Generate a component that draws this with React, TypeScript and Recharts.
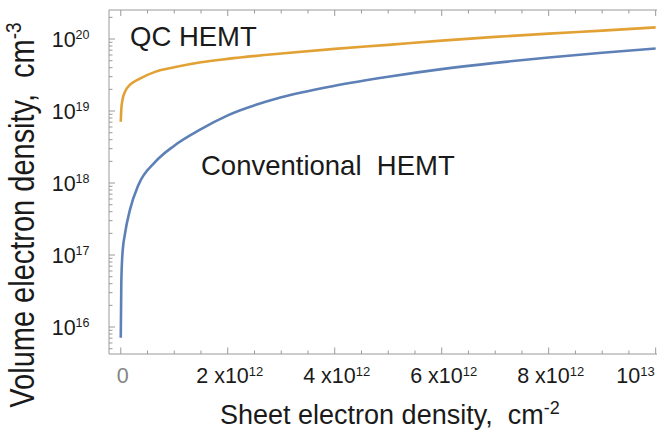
import React from 'react';
import { LineChart, Line, XAxis, YAxis } from 'recharts';

// Sheet electron density (units of 10^12 cm^-2)
const SHEET = [0, 0.01, 0.03, 0.08, 0.17, 0.33, 0.64, 1, 1.5, 2, 3, 4, 5, 6, 7, 8, 9, 10];
// Volume electron density (cm^-3) for the QC HEMT
const QC_HEMT = [7.1e18, 1.05e19, 1.4e19, 1.86e19, 2.3e19, 2.75e19, 3.5e19, 4.05e19, 4.75e19, 5.3e19, 6.3e19, 7.3e19, 8.3e19, 9.5e19, 1.07e20, 1.19e20, 1.31e20, 1.45e20];
// Volume electron density (cm^-3) for the conventional HEMT
const CONV_HEMT = [7.1e15, 4e16, 1.0e17, 2.0e17, 4.2e17, 9.4e17, 1.95e18, 3.3e18, 5.6e18, 8.7e18, 1.55e19, 2.25e19, 3.0e19, 3.82e19, 4.67e19, 5.55e19, 6.46e19, 7.4e19];

const X_MAJOR = [0, 2, 4, 6, 8, 10];
const X_MAIN_TEXT = ['0', '2 x10', '4 x10', '6 x10', '8 x10', '10'];
const X_SUP_TEXT = ['', '12', '12', '12', '12', '13'];
const X_TICKS = Array.from({ length: 21 }, (_, i) => i * 0.5);

const Y_DECADES = [1e16, 1e17, 1e18, 1e19, 1e20];
const Y_EXP_TEXT = ['16', '17', '18', '19', '20'];
const Y_TICKS: number[] = [];
for (let k = 15; k <= 20; k++) {
  for (let m = 1; m <= 9; m++) {
    const v = m * Math.pow(10, k);
    if (v >= 4.3e15 && v <= 2.5e20) Y_TICKS.push(v);
  }
}

const data = SHEET.map((x, i) => ({ x, qc: QC_HEMT[i], conv: CONV_HEMT[i] }));

const W = 660;
const H = 432;
const AX_L = 109;
const AX_T = 10;
const AX_B = 354;
const AX_R = 657;
const AXIS_C = '#9a9a9a';
const FONT = '"Liberation Sans", Arial, sans-serif';
const TXT = '#1a1a1a';
const XAX_H = 40;
const XTOP_H = 5;
const YAX_W = 60;

const XTickBottom = (props: any) => {
  const { x, payload } = props;
  const v = payload.value;
  const idx = X_MAJOR.indexOf(v);
  const major = idx >= 0;
  const last = idx === X_MAJOR.length - 1;
  return (
    <g>
      <line x1={x} x2={x} y1={AX_B} y2={AX_B - (major ? 6.5 : 3.5)} stroke={AXIS_C} strokeWidth={1} />
      {major && (
        <text
          x={last ? x - 1 : x + 2}
          y={AX_B + 29}
          textAnchor={last ? 'end' : 'middle'}
          fontSize={21.5}
          fontFamily={FONT}
          fill={idx === 0 ? '#858585' : TXT}
          style={{ whiteSpace: 'pre' }}
        >
          {X_MAIN_TEXT[idx]}
          {X_SUP_TEXT[idx] && (
            <tspan dy={-7} fontSize={13}>
              {X_SUP_TEXT[idx]}
            </tspan>
          )}
        </text>
      )}
    </g>
  );
};

const XTickTop = (props: any) => {
  const { x, payload } = props;
  const major = X_MAJOR.indexOf(payload.value) >= 0;
  return <line x1={x} x2={x} y1={AX_T} y2={AX_T + (major ? 6 : 3.5)} stroke={AXIS_C} strokeWidth={1} />;
};

const YTick = (props: any) => {
  const { y, payload } = props;
  const v = payload.value;
  const idx = Y_DECADES.findIndex((d) => Math.abs(d - v) / d < 1e-9);
  const major = idx >= 0;
  return (
    <g>
      <line x1={AX_L} x2={AX_L + (major ? 6 : 3.5)} y1={y} y2={y} stroke={AXIS_C} strokeWidth={1} />
      {major && (
        <text x={89.5} y={y + 7.5} textAnchor="end" fontSize={21.5} fontFamily={FONT} fill={TXT}>
          10
          <tspan dy={-7.5} fontSize={12.5}>
            {Y_EXP_TEXT[idx]}
          </tspan>
        </text>
      )}
    </g>
  );
};

export default function App() {
  return (
    <div style={{ position: 'absolute', left: 0, top: 0, width: W, height: H, background: '#fff' }}>
      <LineChart
        width={W}
        height={H}
        data={data}
        margin={{ top: AX_T - XTOP_H, right: W - AX_R, bottom: H - AX_B - XAX_H, left: AX_L - YAX_W }}
      >
        <XAxis
          dataKey="x"
          type="number"
          domain={[-0.22, 10.025]}
          allowDataOverflow
          ticks={X_TICKS}
          interval={0}
          height={XAX_H}
          tick={<XTickBottom />}
          tickLine={false}
          axisLine={{ stroke: AXIS_C, strokeWidth: 1 }}
        />
        <XAxis
          xAxisId="top"
          orientation="top"
          dataKey="x"
          type="number"
          domain={[-0.22, 10.025]}
          allowDataOverflow
          ticks={X_TICKS}
          interval={0}
          height={XTOP_H}
          tick={<XTickTop />}
          tickLine={false}
          axisLine={{ stroke: AXIS_C, strokeWidth: 1 }}
        />
        <YAxis
          type="number"
          scale="log"
          domain={[4.22e15, 2.53e20]}
          allowDataOverflow
          ticks={Y_TICKS}
          interval={0}
          width={YAX_W}
          tick={<YTick />}
          tickLine={false}
          axisLine={{ stroke: AXIS_C, strokeWidth: 1 }}
        />
        <Line
          type="monotone"
          dataKey="qc"
          stroke="#E2A134"
          strokeWidth={2.6}
          dot={false}
          isAnimationActive={false}
        />
        <Line
          type="monotone"
          dataKey="conv"
          stroke="#5D80B6"
          strokeWidth={2.6}
          dot={false}
          isAnimationActive={false}
        />
      </LineChart>
      <svg
        width={W}
        height={H}
        style={{ position: 'absolute', left: 0, top: 0, pointerEvents: 'none' }}
      >
        <text x={130} y={46} fontSize={27.5} fontFamily={FONT} fill={TXT}>
          QC HEMT
        </text>
        <text x={201} y={175} fontSize={27.5} fontFamily={FONT} fill={TXT} style={{ whiteSpace: 'pre' }}>
          Conventional  HEMT
        </text>
        <text x={220} y={424} fontSize={27} fontFamily={FONT} fill={TXT} style={{ whiteSpace: 'pre' }}>
          Sheet electron density,  cm
          <tspan dy={-10} fontSize={18}>
            -2
          </tspan>
        </text>
        <text
          transform="translate(34,215) rotate(-90) scale(1,1.18)"
          textAnchor="middle"
          fontSize={29}
          fontFamily={FONT}
          fill={TXT}
          style={{ whiteSpace: 'pre' }}
        >
          Volume electron density,  cm
          <tspan dy={-11} fontSize={19}>
            -3
          </tspan>
        </text>
      </svg>
    </div>
  );
}
